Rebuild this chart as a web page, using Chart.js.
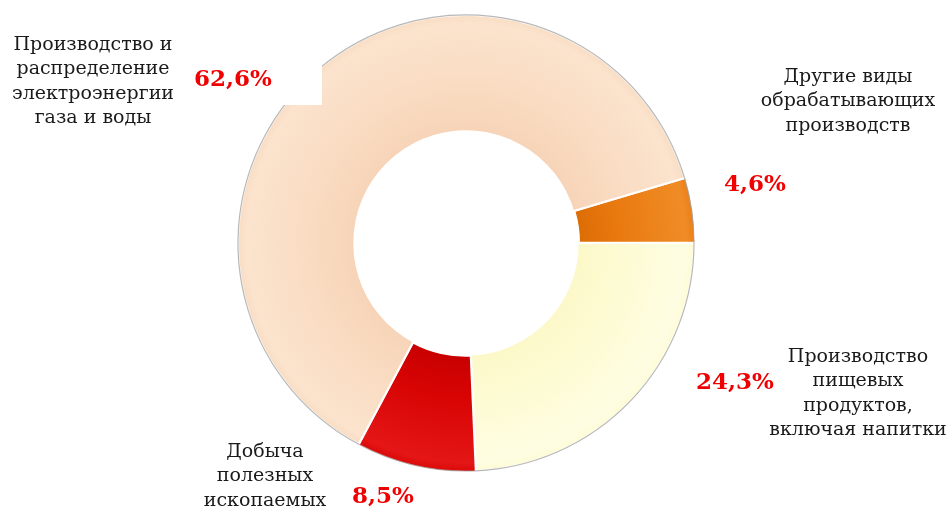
<!DOCTYPE html>
<html lang="ru">
<head>
<meta charset="utf-8">
<script src="https://cdn.jsdelivr.net/npm/chart.js@4.4.1/dist/chart.umd.min.js"></script>
<style>
  html, body { margin: 0; padding: 0; background: #fff; }
  #wrap { width: 949px; height: 511px; position: relative; }
</style>
</head>
<body>
<div id="wrap"><canvas id="struct"></canvas></div>
<script>
// структура по видам деятельности, %
const sectors = ['Другие виды обрабатывающих производств', 'Производство пищевых продуктов, включая напитки', 'Добыча полезных ископаемых', 'Производство и распределение электроэнергии газа и воды'];
const shares = [4.6, 24.3, 8.5, 62.6];
const shareLabels = ['4,6%', '24,3%', '8,5%', '62,6%'];

// подписи секторов: строки, центр по x, первая строка по y
const captions = [
  { lines: ['Другие виды', 'обрабатывающих', 'производств'], x: 848, y: 77 },
  { lines: ['Производство', 'пищевых', 'продуктов,', 'включая напитки'], x: 858, y: 357 },
  { lines: ['Добыча', 'полезных', 'ископаемых'], x: 265, y: 452 },
  { lines: ['Производство и', 'распределение', 'электроэнергии', 'газа и воды'], x: 93, y: 45 }
];
const pctPos = [[755, 185], [735, 383], [383, 497], [233, 80]];

// цвета: [у центра, середина, край]
const tones = [
  ['#dc6c04', '#e97a10', '#f08c26'],
  ['#fcf8c9', '#fdfbd2', '#fefde2'],
  ['#c80000', '#d80404', '#e41616'],
  ['#f7d4b8', '#f9dbc1', '#fbe3cd']
];

function sliceFill(ctx) {
  const chart = ctx.chart;
  const t = tones[ctx.dataIndex];
  const ctrl = chart.getDatasetMeta(0).controller;
  const area = chart.chartArea;
  if (!area || !ctrl || !ctrl.outerRadius) return t[1];
  const cx = (area.left + area.right) / 2, cy = (area.top + area.bottom) / 2;
  const g = chart.ctx.createRadialGradient(cx, cy, ctrl.innerRadius, cx, cy, ctrl.outerRadius + 3);
  g.addColorStop(0, t[0]);
  g.addColorStop(0.35, t[1]);
  g.addColorStop(0.9, t[2]);
  g.addColorStop(1, t[1]);
  return g;
}

const labelsPlugin = {
  id: 'captions',
  afterDatasetsDraw(chart) {
    const c = chart.ctx;
    const arcs = chart.getDatasetMeta(0).data;
    c.save();
    // тонкий серый контур по внешнему краю
    arcs.forEach(a => {
      c.beginPath();
      c.arc(a.x, a.y, a.outerRadius, a.startAngle, a.endAngle);
      c.strokeStyle = 'rgba(160,160,160,0.75)';
      c.lineWidth = 1.2;
      c.stroke();
    });
    // белая плашка под подписью 62,6%
    c.fillStyle = '#fff';
    c.fillRect(180, 48, 142, 57);

    c.textAlign = 'center';
    c.textBaseline = 'middle';
    c.fillStyle = '#1a1a1a';
    c.font = '19px "DejaVu Serif", serif';
    captions.forEach(cap => {
      cap.lines.forEach((ln, i) => c.fillText(ln, cap.x, cap.y + i * 24.3));
    });
    c.fillStyle = '#f00000';
    c.font = 'bold 23px "DejaVu Serif", serif';
    shareLabels.forEach((s, i) => c.fillText(s, pctPos[i][0], pctPos[i][1]));
    c.restore();
  }
};

new Chart(document.getElementById('struct'), {
  type: 'doughnut',
  data: {
    labels: sectors,
    datasets: [{
      data: shares,
      backgroundColor: sliceFill,
      borderColor: '#ffffff',
      borderWidth: 2,
      offset: [3, 0, 3, 0]
    }]
  },
  options: {
    responsive: true,
    maintainAspectRatio: false,
    animation: false,
    rotation: 90 - shares[0] * 3.6,
    radius: 228,
    cutout: '49%',
    layout: { padding: { left: 0, right: 17, top: 0, bottom: 25 } },
    plugins: {
      legend: { display: false },
      tooltip: { enabled: false }
    }
  },
  plugins: [labelsPlugin]
});
</script>
</body>
</html>
